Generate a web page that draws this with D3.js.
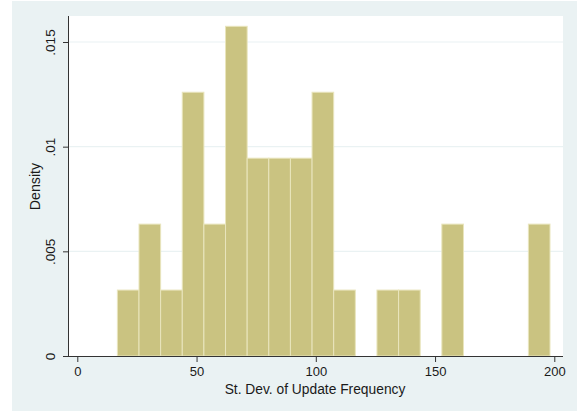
<!DOCTYPE html>
<html>
<head>
<meta charset="utf-8">
<script src="https://cdn.jsdelivr.net/npm/d3@7"></script>
<style>
	body { margin: 0; background: #fff; }
	text { font-family: "Liberation Sans", Arial, sans-serif; fill: #1a1a1a; }
</style>
</head>
<body>
<svg id="chart"></svg>
<script>
// histogram bins (lower edges) and bar heights
const binStart = 16.8 ;
const binWidth = 9.07 ;
const densities = [ .00315, .0063, .00315, .0126, .0063, .01575, .00945, .00945, .00945, .0126,
	.00315, 0, .00315, .00315, 0, .0063, 0, 0, 0, .0063 ] ;
const xTicks = [ 0, 50, 100, 150, 200 ] ;
const yTicks = [ 0, .005, .01, .015 ] ;
const yTickLabels = [ '0', '.005', '.01', '.015' ] ;

const geom = {
	width: 577,
	height: 411,
	margins: { left: 69, top: 16, right: 14, bottom: 55 }
} ;

const svg = d3.select( '#chart' )
	.attr( 'width', geom.width )
	.attr( 'height', geom.height ) ;

// outer graph region
svg.append( 'rect' )
	.attr( 'x', 12 ).attr( 'y', 1 )
	.attr( 'width', geom.width - 12 ).attr( 'height', geom.height - 1 )
	.attr( 'fill', '#eaf2f3' ) ;

const x = d3.scaleLinear()
	.domain( [ 0, 200 ] )
	.range( [ 77.3, 554.3 ] ) ;
const y = d3.scaleLinear()
	.domain( [ 0, .015 ] )
	.range( [ 356, 42 ] ) ;

// plot region
svg.append( 'rect' )
	.attr( 'x', geom.margins.left ).attr( 'y', geom.margins.top )
	.attr( 'width', geom.width - geom.margins.right - geom.margins.left )
	.attr( 'height', geom.height - geom.margins.bottom - geom.margins.top )
	.attr( 'fill', '#fff' ) ;

// grid lines
svg.append( 'g' )
	.selectAll( 'line' )
	.data( yTicks.slice( 1 ) )
	.enter()
	.append( 'line' )
	.attr( 'x1', geom.margins.left ).attr( 'x2', geom.width - geom.margins.right )
	.attr( 'y1', d => y( d ) ).attr( 'y2', d => y( d ) )
	.attr( 'stroke', '#eaf2f3' ).attr( 'stroke-width', 1.2 ) ;

const bins = densities.map( ( d, i ) => ({
	x0: binStart + i * binWidth,
	x1: binStart + ( i + 1 ) * binWidth,
	density: d
}) ).filter( b => b.density > 0 ) ;

svg.append( 'g' )
	.selectAll( 'rect' )
	.data( bins )
	.enter()
	.append( 'rect' )
	.attr( 'x', b => x( b.x0 ) )
	.attr( 'width', b => x( b.x1 ) - x( b.x0 ) )
	.attr( 'y', b => y( b.density ) )
	.attr( 'height', b => y( 0 ) - y( b.density ) )
	.attr( 'fill', '#cac381' )
	.attr( 'stroke', '#e9e5bd' )
	.attr( 'stroke-width', 1 ) ;

// x axis
const xAxis = svg.append( 'g' )
	.attr( 'transform', 'translate(0 356)' )
	.call( d3.axisBottom( x ).tickValues( xTicks ).tickSize( 6 ).tickPadding( 4.5 ) ) ;
xAxis.select( '.domain' )
	.attr( 'd', 'M' + geom.margins.left + ',0.5H' + ( geom.width - geom.margins.right ) ) ;

// y axis
const yAxis = svg.append( 'g' )
	.attr( 'transform', 'translate(69 0)' )
	.call( d3.axisLeft( y ).tickValues( yTicks ).tickSize( 6 )
		.tickFormat( ( d, i ) => yTickLabels[ i ] ) ) ;
yAxis.select( '.domain' )
	.attr( 'd', 'M-0.5,' + geom.margins.top + 'V356' ) ;
yAxis.selectAll( '.tick text' )
	.attr( 'transform', 'rotate(-90)' )
	.attr( 'x', 0 ).attr( 'y', -14 )
	.attr( 'dy', 0 )
	.attr( 'text-anchor', 'middle' ) ;

svg.selectAll( '.domain, .tick line' ).attr( 'stroke', '#333' ) ;
svg.selectAll( '.tick text' )
	.attr( 'font-size', 13.5 )
	.style( 'font-family', '"Liberation Sans", Arial, sans-serif' )
	.attr( 'fill', '#1a1a1a' ) ;
xAxis.selectAll( '.tick text' ).attr( 'font-size', 13 ) ;

svg.append( 'text' )
	.attr( 'x', 315 ).attr( 'y', 394 )
	.attr( 'text-anchor', 'middle' )
	.attr( 'font-size', 13.8 )
	.text( 'St. Dev. of Update Frequency' ) ;

svg.append( 'text' )
	.attr( 'transform', 'translate(40 186.5) rotate(-90)' )
	.attr( 'text-anchor', 'middle' )
	.attr( 'font-size', 14.2 )
	.text( 'Density' ) ;
</script>
</body>
</html>
